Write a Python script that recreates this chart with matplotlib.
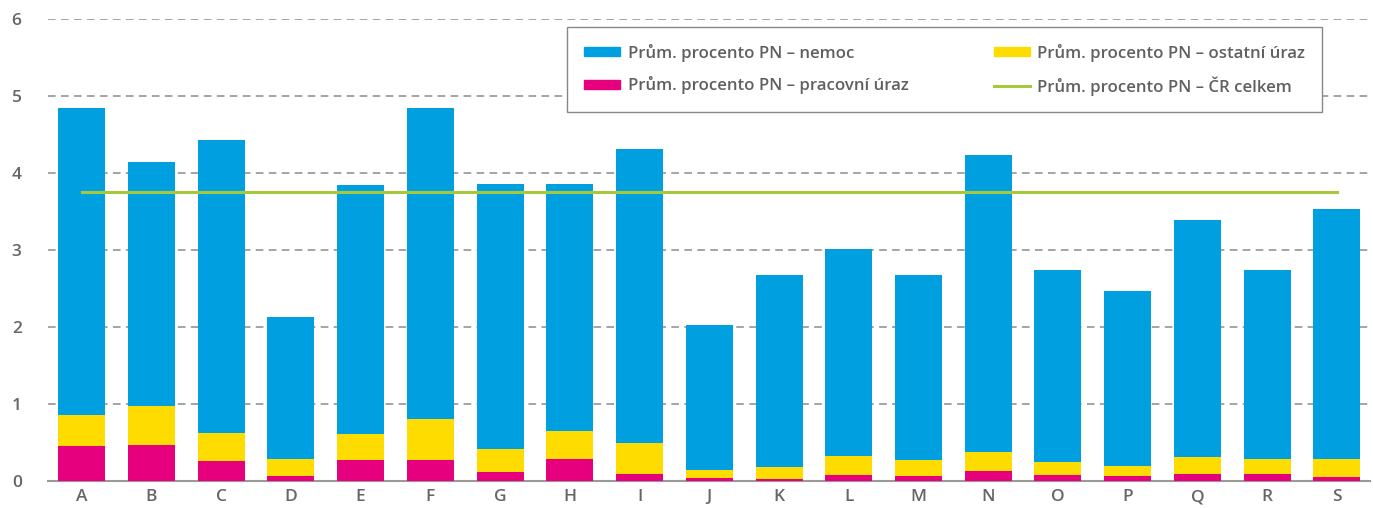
import numpy as np
import matplotlib
matplotlib.use('Agg')
import matplotlib.pyplot as plt
from matplotlib.patches import Patch
from matplotlib.lines import Line2D

plt.rcParams['font.family'] = ['Open Sans', 'DejaVu Sans']

# Data
kategorie = ['A', 'B', 'C', 'D', 'E', 'F', 'G', 'H', 'I', 'J',
             'K', 'L', 'M', 'N', 'O', 'P', 'Q', 'R', 'S']
pracovni = [0.45, 0.47, 0.26, 0.07, 0.27, 0.27, 0.12, 0.29, 0.09, 0.04,
            0.03, 0.08, 0.06, 0.13, 0.08, 0.06, 0.09, 0.09, 0.05]
ostatni = [0.41, 0.50, 0.36, 0.22, 0.34, 0.53, 0.29, 0.36, 0.40, 0.10,
           0.15, 0.24, 0.21, 0.25, 0.17, 0.13, 0.22, 0.20, 0.24]
nemoc = [3.98, 3.17, 3.80, 1.84, 3.23, 4.04, 3.44, 3.20, 3.82, 1.88,
         2.49, 2.69, 2.41, 3.85, 2.49, 2.27, 3.08, 2.45, 3.24]
cr_celkem = 3.75

c_nemoc = '#00a0e0'
c_ostatni = '#ffdc00'
c_pracovni = '#e6007e'
c_cr = '#a5c83c'
c_text = '#666666'

x = np.arange(len(kategorie))
pracovni = np.array(pracovni)
ostatni = np.array(ostatni)
nemoc = np.array(nemoc)

fig = plt.figure(figsize=(13.73, 5.08), dpi=100)
ax = fig.add_axes([0.035, 0.0531, 0.9630, 0.9101])

w = 0.674
ax.bar(x, pracovni, w, color=c_pracovni, zorder=3)
ax.bar(x, ostatni, w, bottom=pracovni, color=c_ostatni, zorder=3)
ax.bar(x, nemoc, w, bottom=pracovni + ostatni, color=c_nemoc, zorder=3)
ax.plot([x[0], x[-1]], [cr_celkem, cr_celkem], color=c_cr, lw=2.2, zorder=4)

ax.set_xlim(-0.483, len(kategorie) - 1 + 0.478)
ax.set_ylim(0, 6)
ax.set_yticks(range(0, 7))
ax.set_xticks(x)
ax.set_xticklabels(kategorie)
ax.tick_params(axis='both', length=0, colors=c_text, labelsize=12.5)
ax.tick_params(axis='y', pad=19)
ax.tick_params(axis='x', pad=6)
for t in ax.get_xticklabels() + ax.get_yticklabels():
    t.set_fontweight('semibold')

for v in range(1, 7):
    ax.axhline(v, color='#8c8c8c', lw=1.1, ls=(0, (5, 3.5)), zorder=1)

for s in ['top', 'right', 'left']:
    ax.spines[s].set_visible(False)
ax.spines['bottom'].set_color('#999999')
ax.spines['bottom'].set_linewidth(1.5)

handles = [Patch(color=c_nemoc), Patch(color=c_pracovni),
           Patch(color=c_ostatni), Line2D([0], [0], color=c_cr, lw=2.2)]
labels = ['Prům. procento PN – nemoc', 'Prům. procento PN – pracovní úraz',
          'Prům. procento PN – ostatní úraz', 'Prům. procento PN – ČR celkem']
leg = ax.legend(handles, labels, ncol=2, loc='upper left',
                bbox_to_anchor=(0.3926, 0.809, 0.5711, 0.173), mode='expand',
                borderaxespad=0, fancybox=False, framealpha=1,
                edgecolor='#888888', handlelength=2.15, handleheight=0.45,
                handletextpad=0.45, borderpad=1.0, labelspacing=0.85,
                columnspacing=2.0, labelcolor='#606060',
                prop={'size': 12.1, 'weight': 'semibold'})
leg.get_frame().set_linewidth(1.0)
leg.set_zorder(5)

fig.savefig('out.png', dpi=100)
